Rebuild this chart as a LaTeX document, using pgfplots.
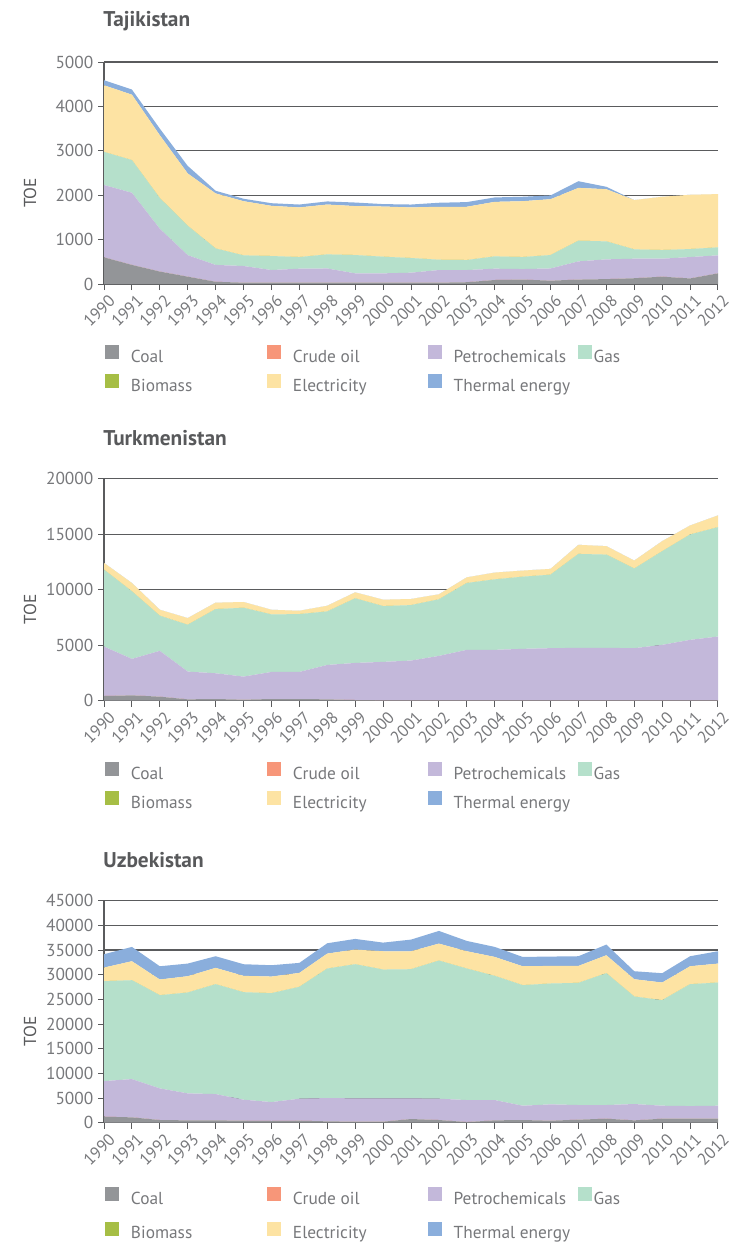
\documentclass[border=0pt]{standalone}
\usepackage{pgfplots}
\pgfplotsset{compat=1.18}
\usepackage{pgfplotstable}
\usepackage{fontspec}
\setmainfont{PT Sans}

\definecolor{coalc}{HTML}{939598}
\definecolor{crudec}{HTML}{F79679}
\definecolor{petroc}{HTML}{C3B8DA}
\definecolor{gasc}{HTML}{B5E0CB}
\definecolor{bioc}{HTML}{A6BE45}
\definecolor{elecc}{HTML}{FDE3A3}
\definecolor{thermc}{HTML}{8AAEDC}
\definecolor{gridc}{HTML}{5A5B5D}
\definecolor{tickc}{HTML}{77787B}
\definecolor{titlec}{HTML}{58595B}

\pgfplotstableread{
year coal crude petro gas bio elec therm
1990 600 0 1630 745 0 1500 115
1991 430 0 1625 735 0 1475 115
1992 280 0 965 690 0 1415 150
1993 165 0 485 660 0 1180 170
1994 50 0 380 370 0 1240 60
1995 30 0 375 240 0 1220 55
1996 30 0 285 315 0 1130 60
1997 30 0 315 262 0 1118 65
1998 30 0 320 317 0 1123 70
1999 30 0 210 412 0 1103 80
2000 30 0 210 375 0 1130 55
2001 30 0 225 330 0 1140 65
2002 30 0 285 232 0 1193 90
2003 40 0 275 225 0 1200 105
2004 90 0 255 277 0 1228 100
2005 100 0 237 270 0 1258 100
2006 75 0 275 302 0 1258 85
2007 100 0 410 465 0 1190 150
2008 110 0 445 405 0 1175 55
2009 130 0 440 210 0 1110 0
2010 165 0 405 195 0 1200 0
2011 125 0 482 180 0 1223 0
2012 240 0 405 180 0 1200 0
}\tajik

\pgfplotstableread{
year coal crude petro gas bio elec therm
1990 420 0 4460 6920 0 610 0
1991 480 0 3285 6085 0 750 0
1992 360 0 4130 3160 0 540 0
1993 120 0 2500 4220 0 600 0
1994 150 0 2320 5780 0 580 0
1995 90 0 2080 6200 0 520 0
1996 150 0 2440 5180 0 420 0
1997 150 0 2440 5210 0 300 0
1998 120 0 3100 4820 0 510 0
1999 60 0 3340 5820 0 540 0
2000 30 0 3465 5025 0 580 0
2001 30 0 3585 4995 0 550 0
2002 30 0 4005 5095 0 450 0
2003 30 0 4550 6020 0 510 0
2004 30 0 4550 6350 0 610 0
2005 30 0 4640 6500 0 550 0
2006 30 0 4700 6620 0 520 0
2007 30 0 4730 8460 0 820 0
2008 30 0 4730 8400 0 760 0
2009 30 0 4700 7170 0 720 0
2010 30 0 5000 8430 0 910 0
2011 30 0 5450 9490 0 810 0
2012 30 0 5750 9850 0 1060 0
}\turkm

\pgfplotstableread{
year coal crude petro gas bio elec therm
1990 1210 0 7220 20250 0 2760 2700
1991 1080 0 7760 20040 0 3850 2900
1992 540 0 6410 18890 0 3180 2690
1993 470 0 5470 20440 0 3310 2560
1994 470 0 5330 22270 0 3310 2360
1995 400 0 4260 21790 0 3310 2360
1996 340 0 3840 22070 0 3370 2300
1997 400 0 4460 22670 0 2830 2030
1998 270 0 4720 26250 0 3040 2090
1999 200 0 4730 27190 0 2970 2160
2000 200 0 4730 26110 0 3710 1750
2001 740 0 4190 26180 0 3640 2360
2002 540 0 4320 28000 0 3440 2570
2003 130 0 4460 26650 0 3510 2090
2004 470 0 4120 25170 0 3840 2030
2005 540 0 2900 24430 0 3840 1890
2006 400 0 3310 24500 0 3570 1890
2007 610 0 2970 24760 0 3440 1960
2008 810 0 2770 26720 0 3640 2160
2009 470 0 3310 21790 0 3510 1620
2010 810 0 2630 21390 0 3580 1890
2011 810 0 2560 24700 0 3640 2030
2012 810 0 2630 24970 0 3840 2500
}\uzbek

\newcommand{\legtxt}[2]{\hspace{9pt}\makebox[#1][l]{#2}}

\pgfplotsset{
  energy/.style={
    scale only axis, width=460.5pt, height=166.5pt,
    xmin=1990, xmax=2012, ymin=0,
    xtick={1990,...,2012},
    /pgf/number format/assume math mode=true,
    axis x line*=bottom, axis y line*=left,
    axis line style={-, gridc, line width=0.9pt},
    ymajorgrids, major grid style={gridc, line width=0.9pt},
    tick style={gridc, line width=0.7pt},
    major tick length=4.5pt, tick align=outside,
    xticklabel style={rotate=45, anchor=north east, xshift=3.5pt, yshift=-0.5pt, font=\fontsize{12.5pt}{13pt}\selectfont, text=tickc, /pgf/number format/1000 sep={}},
    yticklabel style={font=\fontsize{13pt}{14pt}\selectfont, text=tickc, /pgf/number format/1000 sep={}},
    scaled y ticks=false,
    ylabel={TOE},
    ylabel style={at={(axis description cs:-0.1205,0.41)}, anchor=center, font=\fontsize{13pt}{14pt}\selectfont, text=titlec},
    title style={at={(axis description cs:0,1)}, anchor=west, yshift=24.75pt, xshift=-4pt, font=\bfseries\fontsize{16pt}{17pt}\selectfont, text=titlec},
    stack plots=y,
    every axis plot/.append style={draw=none, mark=none},
    axis on top=false,
    legend columns=4,
    legend cell align=left,
    legend image code/.code={\fill[##1] (0pt,-1.25pt) rectangle (10.5pt,9.25pt);},
    legend style={at={(axis description cs:0,0)}, anchor=north west, xshift=0.75pt, yshift=-46pt,
      draw=none, fill=none, inner sep=0pt, outer sep=0pt,
      font=\fontsize{13pt}{14pt}\selectfont, text=tickc,
      row sep=7pt, column sep=0pt, nodes={inner sep=0pt}},
  }
}

\newcommand{\stackit}[1]{%
  \addplot[fill=coalc] table[x=year,y=coal] {#1} \closedcycle;
  \addplot[fill=crudec] table[x=year,y=crude] {#1} \closedcycle;
  \addplot[fill=petroc] table[x=year,y=petro] {#1} \closedcycle;
  \addplot[fill=gasc] table[x=year,y=gas] {#1} \closedcycle;
  \addplot[fill=bioc] table[x=year,y=bio] {#1} \closedcycle;
  \addplot[fill=elecc] table[x=year,y=elec] {#1} \closedcycle;
  \addplot[fill=thermc] table[x=year,y=therm] {#1} \closedcycle;
  \addlegendentry{\legtxt{102pt}{Coal}}
  \addlegendentry{\legtxt{101pt}{Crude oil}}
  \addlegendentry{\legtxt{93pt}{Petrochemicals}}
  \addlegendentry{\hspace{1.5pt}Gas}
  \addlegendentry{\legtxt{102pt}{Biomass}}
  \addlegendentry{\legtxt{101pt}{Electricity}}
  \addlegendentry{\legtxt{93pt}{Thermal energy}}
}

\begin{document}
\begin{tikzpicture}
\path (0,0) rectangle (546.75pt,-932.25pt);

\begin{axis}[energy, at={(78pt,-213pt)}, anchor=south west,
  ymax=5000, ytick={0,1000,...,5000}, title={Tajikistan}]
\stackit{\tajik}
\end{axis}

\begin{axis}[energy, at={(78pt,-525.5pt)}, anchor=south west,
  ymax=20000, ytick={0,5000,...,20000}, title={Turkmenistan}]
\stackit{\turkm}
\end{axis}

\begin{axis}[energy, at={(78pt,-842pt)}, anchor=south west,
  ymax=45000, ytick={0,5000,...,45000}, title={Uzbekistan},
  legend style={yshift=-2pt, row sep=11.5pt}]
\stackit{\uzbek}
\end{axis}
\end{tikzpicture}
\end{document}
